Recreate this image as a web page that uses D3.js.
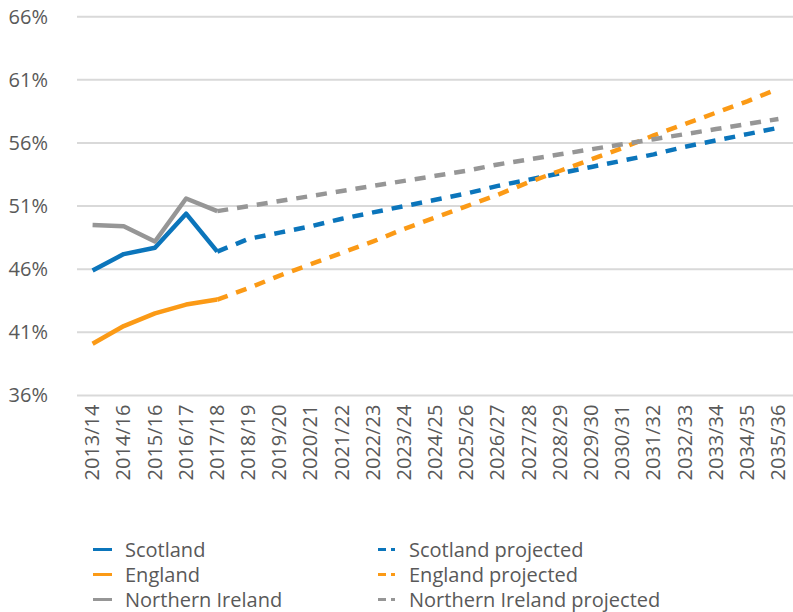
<!DOCTYPE html>
<html>
<head>
<meta charset="utf-8">
<script src="https://cdn.jsdelivr.net/npm/d3@7"></script>
<style>
    body { margin: 0; background: #fff; }
    text { font-family: "Open Sans", sans-serif; fill: #595959; }
    .grid line { stroke: #d9d9d9; stroke-width: 2; }
</style>
</head>
<body>
<script>
var categories = ['2013/14', '2014/16', '2015/16', '2016/17', '2017/18', '2018/19', '2019/20',
    '2020/21', '2021/22', '2022/23', '2023/24', '2024/25', '2025/26', '2026/27', '2027/28',
    '2028/29', '2029/30', '2030/31', '2031/32', '2032/33', '2033/34', '2034/35', '2035/36'];

// actual values, 2013/14 to 2017/18
var scotland = [45.9, 47.2, 47.7, 50.4, 47.4];
var england = [40.1, 41.5, 42.5, 43.2, 43.6];
var nIreland = [49.5, 49.4, 48.2, 51.6, 50.6];

// projections, 2017/18 to 2035/36
var scotlandProjected = [47.4, 48.4, 48.9, 49.4, 50.0, 50.5, 51.0, 51.5, 52.0, 52.6,
    53.1, 53.6, 54.1, 54.6, 55.1, 55.7, 56.2, 56.7, 57.2];
var englandProjected = [43.6, 44.5, 45.5, 46.4, 47.3, 48.2, 49.2, 50.1, 51.0, 51.9,
    52.9, 53.8, 54.7, 55.6, 56.6, 57.5, 58.4, 59.3, 60.3];
var nIrelandProjected = [50.6, 51.0, 51.4, 51.8, 52.2, 52.6, 53.0, 53.4, 53.8, 54.3,
    54.7, 55.1, 55.5, 55.9, 56.3, 56.7, 57.1, 57.5, 57.9];

var yTicks = [36, 41, 46, 51, 56, 61, 66];

var series = [
    { name: 'Scotland', values: scotland, start: 0, color: '#0b75bb', dashed: false },
    { name: 'England', values: england, start: 0, color: '#fb9a16', dashed: false },
    { name: 'Northern Ireland', values: nIreland, start: 0, color: '#969696', dashed: false },
    { name: 'Scotland projected', values: scotlandProjected, start: 4, color: '#0b75bb', dashed: true },
    { name: 'England projected', values: englandProjected, start: 4, color: '#fb9a16', dashed: true },
    { name: 'Northern Ireland projected', values: nIrelandProjected, start: 4, color: '#969696', dashed: true }
];

var width = 793,
    height = 612,
    plotLeft = 77,
    plotRight = 794,
    plotTop = 16.7,
    plotBottom = 395.5;

var svg = d3.select('body').append('svg')
    .attr('width', width)
    .attr('height', height);

var x = d3.scaleBand()
    .domain(categories)
    .range([plotLeft, plotRight]);

var y = d3.scaleLinear()
    .domain([36, 66])
    .range([plotBottom, plotTop]);

// gridlines (the bottom one doubles as the category axis)
svg.append('g')
    .attr('class', 'grid')
    .selectAll('line')
    .data(yTicks)
    .enter().append('line')
    .attr('x1', plotLeft)
    .attr('x2', width)
    .attr('y1', d => y(d))
    .attr('y2', d => y(d));

var yAxis = d3.axisLeft(y)
    .tickValues(yTicks)
    .tickSize(0)
    .tickPadding(0)
    .tickFormat(d => d + '%');

svg.append('g')
    .attr('transform', 'translate(48,0)')
    .call(yAxis)
    .call(g => g.select('.domain').remove())
    .selectAll('text')
    .style('font-size', '20px')
    .attr('fill', '#595959');

var xAxis = d3.axisBottom(x)
    .tickSize(0)
    .tickPadding(0);

svg.append('g')
    .attr('transform', 'translate(0,' + plotBottom + ')')
    .call(xAxis)
    .call(g => g.select('.domain').remove())
    .selectAll('text')
    .style('font-size', '20px')
    .attr('fill', '#595959')
    .attr('text-anchor', 'end')
    .attr('dy', '0.33em')
    .attr('transform', 'translate(0,9) rotate(-90)')
    .attr('y', 0)
    .attr('x', 0);

var line = d3.line()
    .x(d => x(d.cat) + x.bandwidth() / 2)
    .y(d => y(d.value));

series.forEach(function (s) {
    var points = s.values.map((v, i) => ({ cat: categories[s.start + i], value: v }));
    svg.append('path')
        .attr('d', line(points))
        .attr('fill', 'none')
        .attr('stroke', s.color)
        .attr('stroke-width', 4.5)
        .attr('stroke-linejoin', 'round')
        .attr('stroke-dasharray', s.dashed ? '11,9' : null);
});

// legend, two columns of three
var legend = svg.append('g').attr('class', 'legend');
series.forEach(function (s, idx) {
    var col = Math.floor(idx / 3),
        row = idx % 3,
        lx = col === 0 ? 93 : 378,
        ly = 549.5 + row * 25;
    var item = legend.append('g').attr('transform', 'translate(' + lx + ',' + ly + ')');
    item.append('line')
        .attr('x1', 0)
        .attr('x2', s.dashed ? 17 : 19)
        .attr('stroke', s.color)
        .attr('stroke-width', 3)
        .attr('stroke-dasharray', s.dashed ? '8,5' : null);
    item.append('text')
        .attr('x', col === 0 ? 32 : 31)
        .attr('dy', '0.35em')
        .style('font-size', '20px')
        .text(s.name);
});
</script>
</body>
</html>
